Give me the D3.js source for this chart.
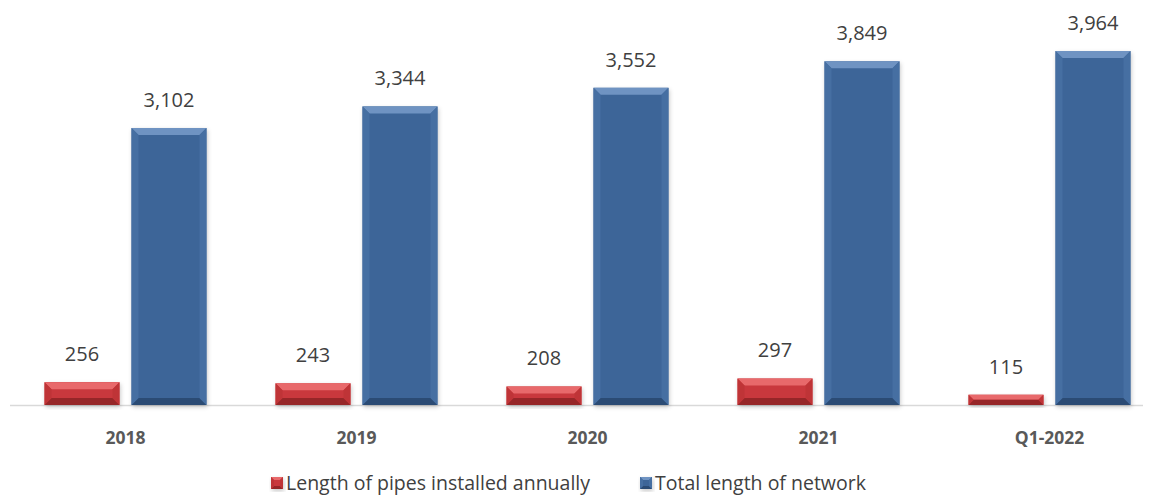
<!DOCTYPE html>
<html>
<head>
<meta charset="utf-8">
<script src="https://cdn.jsdelivr.net/npm/d3@7"></script>
<style>
  body { margin: 0; background: #fff; }
  text { font-family: "Open Sans", "Noto Sans", sans-serif; }
</style>
</head>
<body>
<div id="chart"></div>
<script>
var categories = ["2018", "2019", "2020", "2021", "Q1-2022"];
var seriesNames = ["Length of pipes installed annually", "Total length of network"];
var pipesInstalled = [256, 243, 208, 297, 115];
var totalNetwork = [3102, 3344, 3552, 3849, 3964];

var width = 1153, height = 502;
var margin = { top: 20, right: 0, bottom: 97, left: 10 };
var baseY = height - margin.bottom;

var colors = [
  { main: "#c9393c", light: "#e8696b", dark: "#962628", side: "#bf3437" },
  { main: "#3c6598", light: "#6f93c2", dark: "#2b4b74", side: "#466fa2" }
];

var svg = d3.select("#chart").append("svg")
  .attr("width", width)
  .attr("height", height);

var x0 = d3.scaleBand()
  .domain(categories)
  .range([margin.left, margin.left + 231 * 5])
  .paddingInner(0);

var x1 = d3.scaleBand()
  .domain([0, 1])
  .range([0, 231])
  .paddingInner(0.138)
  .paddingOuter(0.397);

var y = d3.scaleLinear()
  .domain([0, 4300])
  .range([baseY, baseY - 4300 * 0.0893]);

// axis line
svg.append("line")
  .attr("x1", margin.left).attr("x2", 1143)
  .attr("y1", baseY + 0.5).attr("y2", baseY + 0.5)
  .attr("stroke", "#d9d9d9").attr("stroke-width", 1.5);

var defs = svg.append("defs");
var filt = defs.append("filter").attr("id", "shadow")
  .attr("x", "-10%").attr("y", "-10%").attr("width", "130%").attr("height", "130%");
filt.append("feDropShadow").attr("dx", 1).attr("dy", 2).attr("stdDeviation", 2)
  .attr("flood-color", "#000").attr("flood-opacity", 0.22);

var drawBar = function(g, bx, by, bw, bh, c, bevel) {
  var b = Math.min(bevel, bh / 2);
  var grp = g.append("g");
  grp.append("rect")
    .attr("x", bx).attr("y", by).attr("width", bw).attr("height", bh)
    .attr("fill", c.main).attr("filter", "url(#shadow)");
  // top bevel
  grp.append("polygon")
    .attr("points", [[bx, by], [bx + bw, by], [bx + bw - b, by + b], [bx + b, by + b]].join(" "))
    .attr("fill", c.light);
  // bottom bevel
  grp.append("polygon")
    .attr("points", [[bx, by + bh], [bx + bw, by + bh], [bx + bw - b, by + bh - b], [bx + b, by + bh - b]].join(" "))
    .attr("fill", c.dark);
  // left / right
  grp.append("polygon")
    .attr("points", [[bx, by], [bx + b, by + b], [bx + b, by + bh - b], [bx, by + bh]].join(" "))
    .attr("fill", c.side);
  grp.append("polygon")
    .attr("points", [[bx + bw, by], [bx + bw - b, by + b], [bx + bw - b, by + bh - b], [bx + bw, by + bh]].join(" "))
    .attr("fill", c.side);
};

var fmt = d3.format(",");

categories.forEach(function(cat, i) {
  var vals = [pipesInstalled[i], totalNetwork[i]];
  var g = svg.append("g").attr("transform", "translate(" + x0(cat) + ",0)");
  vals.forEach(function(v, s) {
    var bx = x1(s), bw = x1.bandwidth();
    var by = y(v), bh = baseY - y(v);
    drawBar(g, bx, by, bw, bh, colors[s], 7);
    g.append("text")
      .attr("x", bx + bw / 2)
      .attr("y", by - 21)
      .attr("text-anchor", "middle")
      .attr("font-size", 20)
      .attr("fill", "#404040")
      .text(fmt(v));
  });
  g.append("text")
    .attr("x", x0.bandwidth() / 2)
    .attr("y", baseY + 39)
    .attr("text-anchor", "middle")
    .attr("font-size", 17.5)
    .attr("font-weight", "bold")
    .attr("fill", "#595959")
    .text(cat);
});

// legend
var legendX = [271, 640];
seriesNames.forEach(function(name, s) {
  var lg = svg.append("g").attr("transform", "translate(" + legendX[s] + ",477)");
  drawBar(lg, 0, 0, 12, 12, colors[s], 3);
  lg.append("text")
    .attr("x", 15).attr("y", 13)
    .attr("font-size", 19.5)
    .attr("fill", "#404040")
    .text(name);
});
</script>
</body>
</html>
